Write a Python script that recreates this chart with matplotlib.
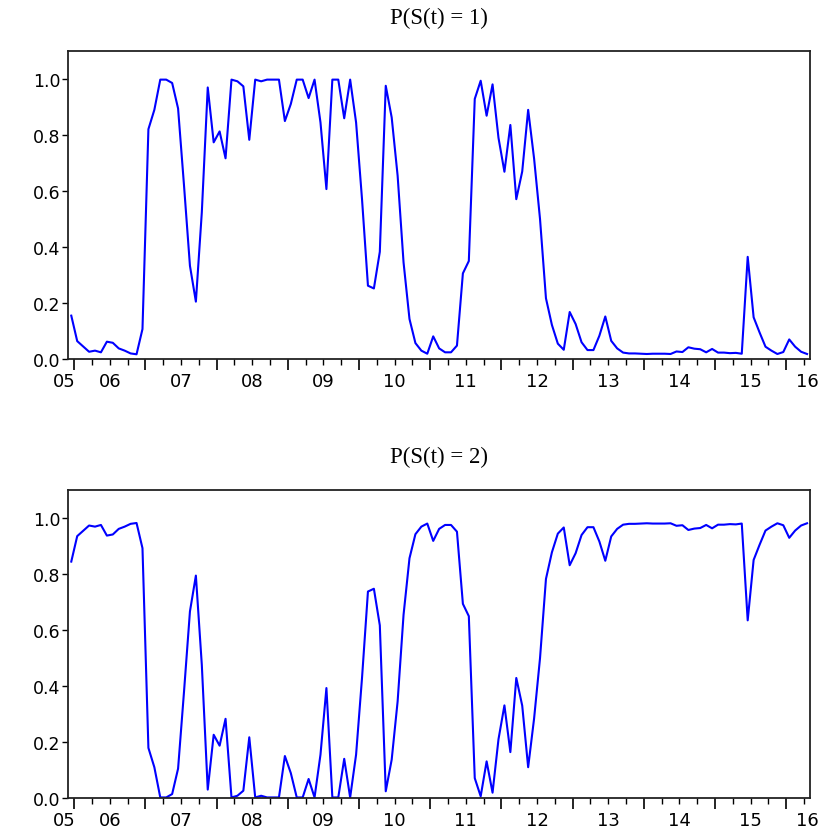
import matplotlib
matplotlib.use("Agg")
import matplotlib.pyplot as plt
import numpy as np

# smoothed regime probabilities, monthly 2005M12 - 2016M04
p1 = [0.155, 0.064, 0.045, 0.026, 0.030, 0.024, 0.062, 0.058, 0.038, 0.030, 0.020, 0.017,
      0.107, 0.821, 0.890, 0.998, 0.998, 0.986, 0.895, 0.620, 0.333, 0.205, 0.524, 0.970,
      0.774, 0.813, 0.717, 0.998, 0.992, 0.974, 0.783, 0.998, 0.992, 0.998, 0.998, 0.998,
      0.850, 0.911, 0.998, 0.998, 0.932, 0.998, 0.845, 0.607, 0.998, 0.998, 0.860, 0.998,
      0.845, 0.571, 0.262, 0.252, 0.383, 0.976, 0.863, 0.655, 0.345, 0.143, 0.057, 0.030,
      0.019, 0.081, 0.038, 0.024, 0.024, 0.048, 0.306, 0.350, 0.929, 0.994, 0.869, 0.981,
      0.790, 0.669, 0.836, 0.571, 0.670, 0.890, 0.716, 0.500, 0.217, 0.122, 0.055, 0.033,
      0.168, 0.125, 0.060, 0.032, 0.032, 0.083, 0.152, 0.065, 0.038, 0.023, 0.020, 0.020,
      0.019, 0.018, 0.019, 0.019, 0.019, 0.018, 0.027, 0.025, 0.042, 0.037, 0.035, 0.024,
      0.036, 0.023, 0.023, 0.021, 0.022, 0.019, 0.365, 0.149, 0.095, 0.044, 0.030, 0.018,
      0.025, 0.070, 0.044, 0.026, 0.018]

p2 = [0.845, 0.936, 0.955, 0.974, 0.970, 0.976, 0.938, 0.942, 0.962, 0.970, 0.980, 0.983,
      0.893, 0.179, 0.110, 0.002, 0.002, 0.014, 0.105, 0.380, 0.667, 0.795, 0.476, 0.030,
      0.226, 0.187, 0.283, 0.002, 0.008, 0.026, 0.217, 0.002, 0.008, 0.002, 0.002, 0.002,
      0.150, 0.089, 0.002, 0.002, 0.068, 0.002, 0.155, 0.393, 0.002, 0.002, 0.140, 0.002,
      0.155, 0.429, 0.738, 0.748, 0.617, 0.024, 0.137, 0.345, 0.655, 0.857, 0.943, 0.970,
      0.981, 0.919, 0.962, 0.976, 0.976, 0.952, 0.694, 0.650, 0.071, 0.006, 0.131, 0.019,
      0.210, 0.331, 0.164, 0.429, 0.330, 0.110, 0.284, 0.500, 0.783, 0.878, 0.945, 0.967,
      0.832, 0.875, 0.940, 0.968, 0.968, 0.917, 0.848, 0.935, 0.962, 0.977, 0.980, 0.980,
      0.981, 0.982, 0.981, 0.981, 0.981, 0.982, 0.973, 0.975, 0.958, 0.963, 0.965, 0.976,
      0.964, 0.977, 0.977, 0.979, 0.978, 0.981, 0.635, 0.851, 0.905, 0.956, 0.970, 0.982,
      0.975, 0.930, 0.956, 0.974, 0.982]

year_labels = ['05', '06', '07', '08', '09', '10', '11', '12', '13', '14', '15', '16']
year_pos = [-1.15, 6.5, 18.5, 30.5, 42.5, 54.5, 66.5, 78.5, 90.5, 102.5, 114.5, 124.0]
titles = ['P(S(t) = 1)', 'P(S(t) = 2)']

fig = plt.figure(figsize=(8.21, 8.29), dpi=100)
ax1 = fig.add_axes([0.0832, 0.5657, 0.9034, 0.3715])
ax2 = fig.add_axes([0.0832, 0.0362, 0.9034, 0.3712])

n = len(p1)
x = np.arange(n)

for ax, y, t in zip([ax1, ax2], [p1, p2], titles):
    ax.plot(x, y, color='#0000ff', lw=1.5)
    ax.set_xlim(-0.5, n - 0.5)
    ax.set_ylim(0, 1.1)
    ax.set_yticks([0.0, 0.2, 0.4, 0.6, 0.8, 1.0])
    ax.set_yticklabels(['0.0', '0.2', '0.4', '0.6', '0.8', '1.0'],
                       fontfamily='DejaVu Sans', fontsize=12.5)
    ax.tick_params(axis='y', direction='out', length=4, width=1, pad=1.5)
    ax.set_xticks(np.arange(0.5, n, 12))
    ax.set_xticks(np.arange(0.5, n, 3), minor=True)
    ax.set_xticklabels([])
    ax.tick_params(axis='x', which='major', direction='out', length=8, width=1.2)
    ax.tick_params(axis='x', which='minor', direction='out', length=4, width=1)
    for xp, lab in zip(year_pos, year_labels):
        ax.text(xp, -0.07, lab, transform=ax.get_xaxis_transform(),
                ha='center', va='center', fontsize=13, fontfamily='DejaVu Sans')
    for s in ax.spines.values():
        s.set_linewidth(1.3)
        s.set_color('#222222')
    ax.set_title(t, fontfamily='Liberation Serif', fontsize=16.5, pad=20)

fig.savefig('out.png', dpi=100)
